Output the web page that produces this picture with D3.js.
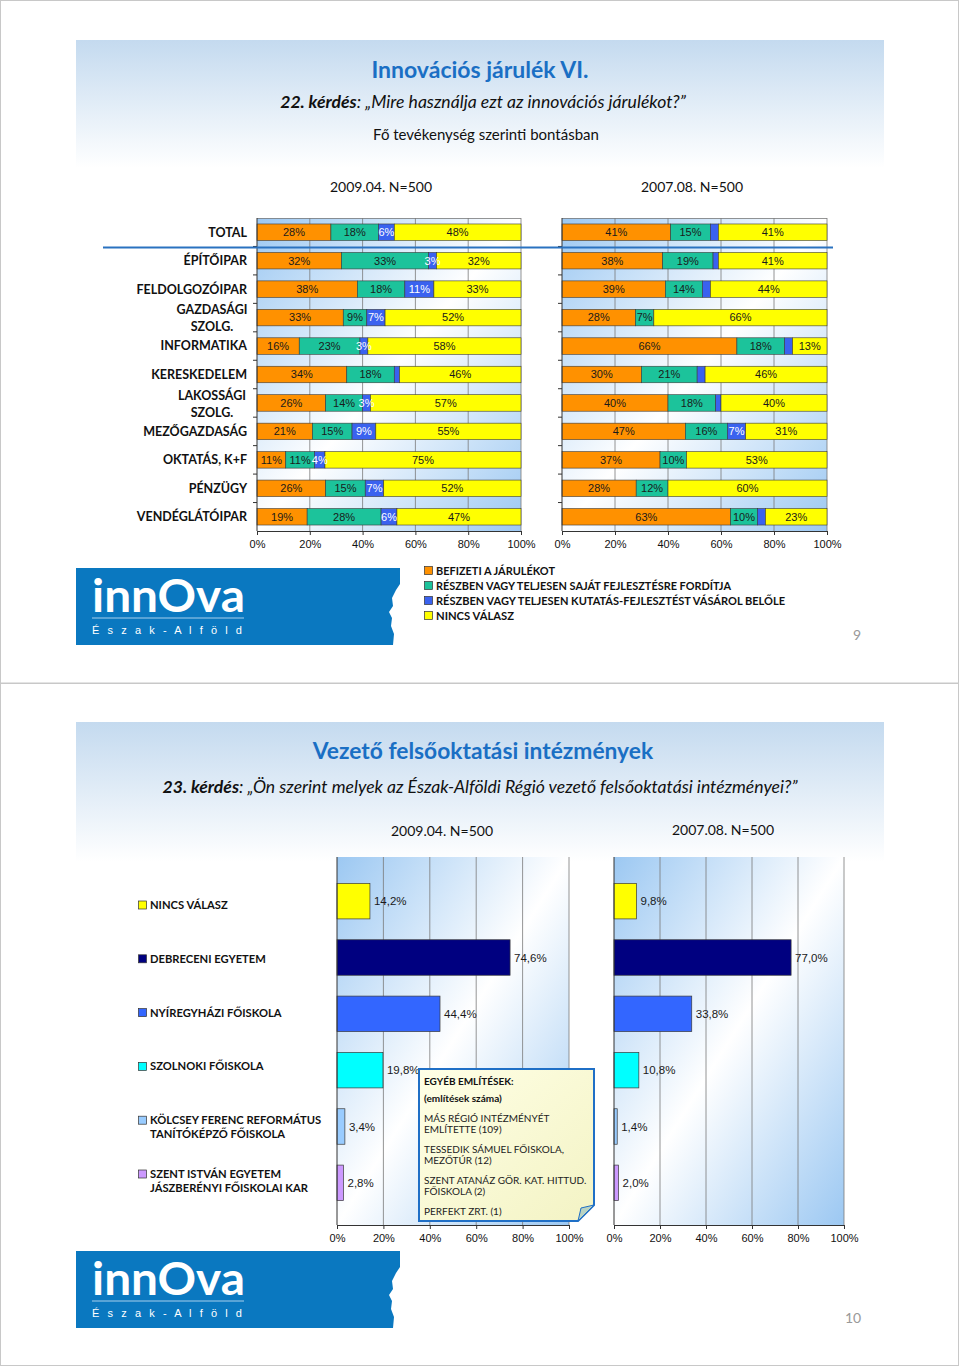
<!DOCTYPE html>
<html>
<head>
<meta charset="utf-8">
<script src="https://cdn.jsdelivr.net/npm/d3@7"></script>
<style>
  body { margin: 0; background: #fff; }
  svg { display: block; }
</style>
</head>
<body>
<svg id="page" width="960" height="1367"></svg>
<script>
// --- slide 1 data: 22. kérdés, fő tevékenység szerint ---
const sectors = ['TOTAL', 'ÉPÍTŐIPAR', 'FELDOLGOZÓIPAR', 'GAZDASÁGI SZOLG.', 'INFORMATIKA',
  'KERESKEDELEM', 'LAKOSSÁGI SZOLG.', 'MEZŐGAZDASÁG', 'OKTATÁS, K+F', 'PÉNZÜGY', 'VENDÉGLÁTÓIPAR'];
const answers = ['BEFIZETI A JÁRULÉKOT', 'RÉSZBEN VAGY TELJESEN SAJÁT FEJLESZTÉSRE FORDÍTJA',
  'RÉSZBEN VAGY TELJESEN KUTATÁS-FEJLESZTÉST VÁSÁROL BELŐLE', 'NINCS VÁLASZ'];
const answerColors = ['#ff9100', '#1cc39b', '#3a62ef', '#ffff00'];

const befizeti2009 = [28, 32, 38, 33, 16, 34, 26, 21, 11, 26, 19];
const sajat2009    = [18, 33, 18, 9, 23, 18, 14, 15, 11, 15, 28];
const vasarol2009  = [6, 3, 11, 7, 3, 2, 3, 9, 4, 7, 6];
const nincs2009    = [48, 32, 33, 52, 58, 46, 57, 55, 75, 52, 47];
// segments drawn without a value label
const unlabelled2009 = [[2, 'KERESKEDELEM']];

const befizeti2007 = [41, 38, 39, 28, 66, 30, 40, 47, 37, 28, 63];
const sajat2007    = [15, 19, 14, 7, 18, 21, 18, 16, 10, 12, 10];
const vasarol2007  = [3, 2, 3, 0, 3, 3, 2, 7, 0, 0, 3];
const nincs2007    = [41, 41, 44, 66, 13, 46, 40, 31, 53, 60, 23];
const unlabelled2007 = [[2, 'TOTAL'], [2, 'ÉPÍTŐIPAR'], [2, 'FELDOLGOZÓIPAR'], [2, 'INFORMATIKA'],
  [2, 'KERESKEDELEM'], [2, 'LAKOSSÁGI SZOLG.'], [2, 'VENDÉGLÁTÓIPAR']];

const pctTicks = [0, 0.2, 0.4, 0.6, 0.8, 1];

// --- slide 2 data: 23. kérdés ---
const institutions = ['NINCS VÁLASZ', 'DEBRECENI EGYETEM', 'NYÍREGYHÁZI FŐISKOLA', 'SZOLNOKI FŐISKOLA',
  'KÖLCSEY FERENC REFORMÁTUS TANÍTÓKÉPZŐ FŐISKOLA', 'SZENT ISTVÁN EGYETEM JÁSZBERÉNYI FŐISKOLAI KAR'];
const institutionColors = ['#ffff00', '#000080', '#3366ff', '#00ffff', '#99ccff', '#cc99ff'];
const share2009 = [14.2, 74.6, 44.4, 19.8, 3.4, 2.8];
const share2007 = [9.8, 77.0, 33.8, 10.8, 1.4, 2.0];
const otherMentions = [
  ['MÁS RÉGIÓ INTÉZMÉNYÉT', 'EMLÍTETTE (109)'],
  ['TESSEDIK SÁMUEL FŐISKOLA,', 'MEZŐTÚR (12)'],
  ['SZENT ATANÁZ GÖR. KAT. HITTUD.', 'FŐISKOLA (2)'],
  ['PERFEKT ZRT. (1)']
];

const CAL = "Lato, 'Open Sans', sans-serif";
const ARIAL = "'Liberation Sans', Arial, sans-serif";
const TITLE_BLUE = '#1a6fc4';

const svg = d3.select('#page');
const defs = svg.append('defs');

const hdr = defs.append('linearGradient').attr('id', 'hdr')
  .attr('x1', 0).attr('y1', 0).attr('x2', 0).attr('y2', 1);
hdr.append('stop').attr('offset', '0%').attr('stop-color', '#c4daef');
hdr.append('stop').attr('offset', '100%').attr('stop-color', '#ffffff');

const plotBg = defs.append('linearGradient').attr('id', 'plotBg')
  .attr('x1', 0).attr('y1', 0).attr('x2', 1).attr('y2', 1);
plotBg.append('stop').attr('offset', '0%').attr('stop-color', '#9cc8f2');
plotBg.append('stop').attr('offset', '50%').attr('stop-color', '#ffffff');
plotBg.append('stop').attr('offset', '100%').attr('stop-color', '#9cc8f2');

const note = defs.append('linearGradient').attr('id', 'note')
  .attr('x1', 0).attr('y1', 0).attr('x2', 1).attr('y2', 1);
note.append('stop').attr('offset', '0%').attr('stop-color', '#ffffe6');
note.append('stop').attr('offset', '100%').attr('stop-color', '#f3f3c4');

// greedy word wrap
function wrap(label, maxChars) {
  const lines = [];
  label.split(' ').forEach(w => {
    const last = lines[lines.length - 1];
    if (last && (last + ' ' + w).length <= maxChars) lines[lines.length - 1] = last + ' ' + w;
    else lines.push(w);
  });
  return lines;
}

// page frames
svg.append('rect').attr('x', 0.5).attr('y', 0.5).attr('width', 958).attr('height', 682.5)
  .attr('fill', 'none').attr('stroke', '#c8c8c8');
svg.append('rect').attr('x', 0.5).attr('y', 683.5).attr('width', 958).attr('height', 682)
  .attr('fill', 'none').attr('stroke', '#c8c8c8');

function header(y0, h) {
  svg.append('rect').attr('x', 76).attr('y', y0).attr('width', 808).attr('height', h)
    .attr('fill', 'url(#hdr)');
}

function logo(y0) {
  const g = svg.append('g').attr('transform', `translate(76,${y0})`);
  g.append('path')
    .attr('d', 'M0,0H324V16L320,22L316,30L317,38L313,44L316,50L315,58L318,66L317,77H0Z')
    .attr('fill', '#0a78c0');
  g.append('text').attr('x', 16).attr('y', 44)
    .attr('font-family', CAL).attr('font-weight', 700).attr('font-size', 46)
    .attr('fill', '#fff').attr('textLength', 153).attr('lengthAdjust', 'spacingAndGlyphs')
    .text('innOva');
  g.append('line').attr('x1', 16).attr('x2', 168).attr('y1', 50).attr('y2', 50)
    .attr('stroke', '#cfe6f7').attr('stroke-width', 0.8);
  g.append('text').attr('x', 16).attr('y', 66)
    .attr('font-family', ARIAL).attr('font-size', 11).attr('fill', '#fff')
    .attr('textLength', 150).attr('lengthAdjust', 'spacing')
    .text('É s z a k - A l f ö l d');
}

// ===================== SLIDE 1 =====================
header(40, 128);

svg.append('text').attr('x', 480).attr('y', 78).attr('text-anchor', 'middle')
  .attr('font-family', CAL).attr('font-weight', 700).attr('font-size', 23).attr('fill', TITLE_BLUE)
  .text('Innovációs járulék VI.');

const q1 = svg.append('text').attr('x', 483).attr('y', 108).attr('text-anchor', 'middle')
  .attr('font-family', CAL).attr('font-style', 'italic').attr('font-size', 17.6).attr('fill', '#111');
q1.append('tspan').attr('font-weight', 700).text('22. kérdés');
q1.append('tspan').text(': „Mire használja ezt az innovációs járulékot?”');

svg.append('text').attr('x', 486).attr('y', 140).attr('text-anchor', 'middle')
  .attr('font-family', CAL).attr('font-size', 15).attr('fill', '#111')
  .text('Fő tevékenység szerinti bontásban');

[['2009.04. N=500', 381], ['2007.08. N=500', 692]].forEach(([t, x]) => {
  svg.append('text').attr('x', x).attr('y', 192).attr('text-anchor', 'middle')
    .attr('font-family', CAL).attr('font-size', 14).attr('fill', '#111').text(t);
});

const PLOT1 = { top: 218, bottom: 531 };

function stackedChart(cols, x0, x1, unlabelled) {
  const g = svg.append('g');
  const rows = sectors.map((s, i) => ({ sector: s, 0: cols[0][i], 1: cols[1][i], 2: cols[2][i], 3: cols[3][i] }));
  const x = d3.scaleLinear().domain([0, 1]).range([x0, x1]);
  const y = d3.scaleBand().domain(sectors).range([PLOT1.top, PLOT1.bottom])
    .paddingInner(0.42).paddingOuter(0.21);

  g.append('rect').attr('x', x0).attr('y', PLOT1.top).attr('width', x1 - x0)
    .attr('height', PLOT1.bottom - PLOT1.top).attr('fill', 'url(#plotBg)');
  g.selectAll('line.grid').data(pctTicks.slice(1)).join('line').attr('class', 'grid')
    .attr('x1', d => x(d)).attr('x2', d => x(d))
    .attr('y1', PLOT1.top).attr('y2', PLOT1.bottom)
    .attr('stroke', '#7a7a7a').attr('stroke-width', 0.8);
  g.append('line').attr('x1', x0).attr('x2', x1).attr('y1', PLOT1.top + 0.5).attr('y2', PLOT1.top + 0.5)
    .attr('stroke', '#7a7a7a').attr('stroke-width', 0.8);

  const series = d3.stack().keys([0, 1, 2, 3]).offset(d3.stackOffsetExpand)(rows);
  g.selectAll('g.series').data(series).join('g').attr('class', 'series')
    .attr('fill', d => answerColors[d.key])
    .selectAll('rect').data(d => d.filter(p => p[1] > p[0])).join('rect')
    .attr('x', d => x(d[0])).attr('width', d => x(d[1]) - x(d[0]))
    .attr('y', d => y(d.data.sector)).attr('height', y.bandwidth())
    .attr('stroke', '#3a3a3a').attr('stroke-width', 0.6);

  const hidden = new Set(unlabelled.map(([k, s]) => k + '|' + s));
  series.forEach(s => {
    s.forEach(p => {
      const v = p.data[s.key];
      if (!v || hidden.has(s.key + '|' + p.data.sector)) return;
      g.append('text')
        .attr('x', (x(p[0]) + x(p[1])) / 2)
        .attr('y', y(p.data.sector) + y.bandwidth() / 2)
        .attr('dy', '0.35em').attr('text-anchor', 'middle')
        .attr('font-family', ARIAL).attr('font-size', 11)
        .attr('fill', s.key === 2 ? '#fff' : '#1a1a1a')
        .text(v + '%');
    });
  });

  // category axis with ticks between bands
  g.append('line').attr('x1', x0).attr('x2', x0).attr('y1', PLOT1.top).attr('y2', PLOT1.bottom)
    .attr('stroke', '#333');
  g.selectAll('line.ctick').data(d3.range(1, sectors.length)).join('line').attr('class', 'ctick')
    .attr('x1', x0 - 4).attr('x2', x0)
    .attr('y1', k => PLOT1.top + k * y.step()).attr('y2', k => PLOT1.top + k * y.step())
    .attr('stroke', '#333');

  const ax = g.append('g').attr('transform', `translate(0,${PLOT1.bottom})`)
    .call(d3.axisBottom(x).tickValues(pctTicks).tickFormat(d3.format('.0%')).tickSize(4).tickPadding(5));
  ax.select('.domain').attr('stroke', '#333');
  ax.selectAll('.tick line').attr('stroke', '#333');
  ax.selectAll('text').attr('font-family', ARIAL).attr('font-size', 11).attr('fill', '#111');
  return y;
}

const y1 = stackedChart([befizeti2009, sajat2009, vasarol2009, nincs2009], 257, 521, unlabelled2009);
stackedChart([befizeti2007, sajat2007, vasarol2007, nincs2007], 562, 827, unlabelled2007);

// sector labels
sectors.forEach(s => {
  const lines = wrap(s, 12);
  const cy = y1(s) + y1.bandwidth() / 2;
  const t = svg.append('text').attr('font-family', CAL).attr('font-weight', 700)
    .attr('font-size', 12.5).attr('fill', '#111');
  if (lines.length === 1) {
    t.attr('x', 247).attr('y', cy).attr('dy', '0.35em').attr('text-anchor', 'end').text(s);
  } else {
    t.attr('text-anchor', 'middle').attr('x', 212).attr('y', cy + 1 - 8.5 * (lines.length - 1));
    lines.forEach((l, i) => t.append('tspan').attr('x', 212).attr('dy', i === 0 ? '0.35em' : 17).text(l));
  }
});

// separator under TOTAL
svg.append('line').attr('x1', 103).attr('x2', 833).attr('y1', 247.5).attr('y2', 247.5)
  .attr('stroke', '#2a72c0').attr('stroke-width', 2);

logo(568);

// legend
const legendWidths = [119, 295, 349, 78];
answers.forEach((a, i) => {
  const ly = 571 + i * 15;
  svg.append('rect').attr('x', 424.5).attr('y', ly - 4.5).attr('width', 8).attr('height', 8)
    .attr('fill', answerColors[i]).attr('stroke', '#333').attr('stroke-width', 0.7);
  svg.append('text').attr('x', 436).attr('y', ly).attr('dy', '0.36em')
    .attr('font-family', CAL).attr('font-weight', 700).attr('font-size', 11.5).attr('fill', '#111')
    .attr('textLength', legendWidths[i]).attr('lengthAdjust', 'spacingAndGlyphs')
    .text(a);
});

svg.append('text').attr('x', 857).attr('y', 640).attr('text-anchor', 'middle')
  .attr('font-family', CAL).attr('font-size', 14).attr('fill', '#999').text('9');

// ===================== SLIDE 2 =====================
header(722, 140);

svg.append('text').attr('x', 483).attr('y', 759).attr('text-anchor', 'middle')
  .attr('font-family', CAL).attr('font-weight', 700).attr('font-size', 22.8).attr('fill', TITLE_BLUE)
  .text('Vezető felsőoktatási intézmények');

const q2 = svg.append('text').attr('x', 480).attr('y', 793).attr('text-anchor', 'middle')
  .attr('font-family', CAL).attr('font-style', 'italic').attr('font-size', 17.6).attr('fill', '#111');
q2.append('tspan').attr('font-weight', 700).text('23. kérdés');
q2.append('tspan').text(': „Ön szerint melyek az Észak-Alföldi Régió vezető felsőoktatási intézményei?”');

[['2009.04. N=500', 442, 836], ['2007.08. N=500', 723, 835]].forEach(([t, x, yy]) => {
  svg.append('text').attr('x', x).attr('y', yy).attr('text-anchor', 'middle')
    .attr('font-family', CAL).attr('font-size', 14).attr('fill', '#111').text(t);
});

const PLOT2 = { top: 857, bottom: 1225, bandTop: 873, bandBottom: 1211 };
const fmtComma = d3.formatLocale({ decimal: ',', thousands: ' ', grouping: [3], currency: ['', ''] }).format('.1f');

function barChart(values, x0, x1) {
  const g = svg.append('g');
  const x = d3.scaleLinear().domain([0, 100]).range([x0, x1]);
  const y = d3.scaleBand().domain(institutions).range([PLOT2.bandTop, PLOT2.bandBottom])
    .paddingInner(0.37).paddingOuter(0.185);
  g.append('rect').attr('x', x0).attr('y', PLOT2.top).attr('width', x1 - x0)
    .attr('height', PLOT2.bottom - PLOT2.top).attr('fill', 'url(#plotBg)');
  g.selectAll('line.grid').data([20, 40, 60, 80, 100]).join('line')
    .attr('x1', d => x(d)).attr('x2', d => x(d)).attr('y1', PLOT2.top).attr('y2', PLOT2.bottom)
    .attr('stroke', '#7a7a7a').attr('stroke-width', 0.8);
  g.selectAll('rect.bar').data(values).join('rect').attr('class', 'bar')
    .attr('x', x0).attr('y', (d, i) => y(institutions[i]))
    .attr('width', d => x(d) - x0).attr('height', y.bandwidth())
    .attr('fill', (d, i) => institutionColors[i])
    .attr('stroke', '#3a3a3a').attr('stroke-width', 0.7);
  g.selectAll('text.val').data(values).join('text').attr('class', 'val')
    .attr('x', d => x(d) + 4).attr('y', (d, i) => y(institutions[i]) + y.bandwidth() / 2)
    .attr('dy', '0.35em').attr('font-family', ARIAL).attr('font-size', 11.5).attr('fill', '#1a1a1a')
    .text(d => fmtComma(d) + '%');
  g.append('line').attr('x1', x0).attr('x2', x0).attr('y1', PLOT2.top).attr('y2', PLOT2.bottom)
    .attr('stroke', '#333');
  const ax = g.append('g').attr('transform', `translate(0,${PLOT2.bottom})`)
    .call(d3.axisBottom(x).tickValues([0, 20, 40, 60, 80, 100]).tickFormat(d => d + '%').tickSize(4).tickPadding(5));
  ax.select('.domain').attr('stroke', '#333');
  ax.selectAll('.tick line').attr('stroke', '#333');
  ax.selectAll('text').attr('font-family', ARIAL).attr('font-size', 11).attr('fill', '#111');
}

barChart(share2009, 337, 569);
barChart(share2007, 614, 844);

// legend of institutions
institutions.forEach((name, i) => {
  const ly = 905 + i * 53.8;
  svg.append('rect').attr('x', 138.5).attr('y', ly - 4).attr('width', 8).attr('height', 8)
    .attr('fill', institutionColors[i]).attr('stroke', '#333').attr('stroke-width', 0.7);
  const t = svg.append('text').attr('font-family', CAL).attr('font-weight', 700)
    .attr('font-size', 11.2).attr('fill', '#111');
  wrap(name, 26).forEach((l, k) => t.append('tspan').attr('x', 150).attr('y', ly + 4 + k * 14).text(l));
});

// callout: other mentions
const cg = svg.append('g').attr('transform', 'translate(419,1069)');
cg.append('path').attr('d', 'M0,0H175V136L159,152H0Z')
  .attr('fill', 'url(#note)').attr('stroke', '#1f6fc6').attr('stroke-width', 2);
cg.append('path').attr('d', 'M175,136L159,152L162,139Z')
  .attr('fill', '#b9d3c2').attr('stroke', '#1f6fc6').attr('stroke-width', 1);
cg.append('text').attr('x', 5).attr('y', 16).attr('font-family', CAL).attr('font-weight', 700)
  .attr('font-size', 10).attr('fill', '#111').text('EGYÉB EMLÍTÉSEK:');
cg.append('text').attr('x', 5).attr('y', 33).attr('font-family', CAL).attr('font-weight', 700)
  .attr('font-size', 10).attr('fill', '#111').text('(említések száma)');
let ny = 53;
otherMentions.forEach(lines => {
  lines.forEach((l, k) => {
    cg.append('text').attr('x', 5).attr('y', ny + k * 11).attr('font-family', CAL)
      .attr('font-size', 10).attr('fill', '#222').text(l);
  });
  ny += lines.length * 11 + 9;
});

logo(1251);

svg.append('text').attr('x', 853).attr('y', 1323).attr('text-anchor', 'middle')
  .attr('font-family', CAL).attr('font-size', 14).attr('fill', '#999').text('10');
</script>
</body>
</html>
